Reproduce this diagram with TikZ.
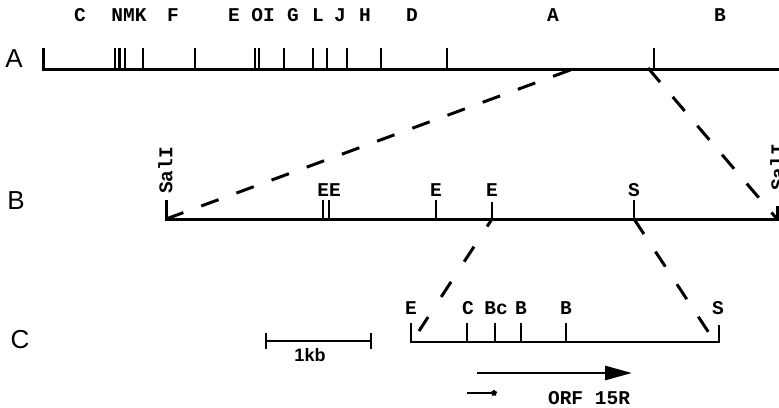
\documentclass[tikz,border=0pt]{standalone}
\usepackage{fontspec}
\setmainfont{Liberation Serif}
\newfontfamily\monofam{Liberation Mono}
\newfontfamily\sansfam{Liberation Sans}
\usetikzlibrary{arrows.meta,shapes.geometric}
\begin{document}
\begin{tikzpicture}[x=1pt,y=-1pt,
  mapline/.style={line width=3pt},
  sitetick/.style={line width=2.8pt},
  zoomline/.style={line width=3pt},
  site/.style={font=\monofam\bfseries\fontsize{19.5}{19.5}\selectfont, inner sep=0pt},
  rowlabel/.style={font=\sansfam\fontsize{26}{26}\selectfont, inner sep=0pt},
  scalelabel/.style={font=\sansfam\bfseries\fontsize{18}{18}\selectfont, inner sep=0pt}]
\useasboundingbox (0,0) rectangle (779,407);

% row labels
\node[rowlabel] (labA) at (14,59) {A};
\node[rowlabel] (labB) at (16,201) {B};
\node[rowlabel] (labC) at (20,340) {C};

% ---- map A
\coordinate (A0) at (43,69);
\coordinate (A1) at (782,69);
\draw[mapline] (43,48) |- (A1);
\foreach \x in {115,119.5,125,143,195,255,259,284,313,327,347,381,447,654}
  \draw[sitetick] (\x,48) -- (\x,69);
\foreach \x/\t/\n in {80/C/c1,129/NMK/c2,173/F/c3,234/E/c4,263/OI/c5,293/G/c6,318/L/c7,340/J/c8,365/H/c9,412/D/c10,553/A/c11,720/B/c12}
  \node[site] (la\n) at (\x,15) {\t};

% ---- map B
\coordinate (B0) at (166,219);
\coordinate (B1) at (777,219);
\draw[mapline] (166,200) |- (B1) -- (777,206);
\foreach \x in {323,329,436,634}
  \draw[sitetick] (\x,200) -- (\x,219);
\draw[sitetick] (492,202) -- (492,219);
\node[site] (lbEE) at (329,190) {EE};
\node[site] (lbE1) at (436,190) {E};
\node[site] (lbE2) at (492,190) {E};
\node[site] (lbS) at (634,190) {S};
\node[site, rotate=90, anchor=west] (sal1) at (165.5,194) {SalI};
\node[site, rotate=90, anchor=west] (sal2) at (777.5,191) {SalI};

% ---- map C
\coordinate (C0) at (411,342);
\coordinate (C1) at (719,342);
\draw[mapline, line width=2.7pt] (411,323) |- (C1) -- (719,325);
\foreach \x in {467,495,521,566}
  \draw[sitetick] (\x,323) -- (\x,342);
\node[site] (lcE) at (411,308) {E};
\node[site] (lcC) at (468,308) {C};
\node[site] (lcBc) at (496,308) {Bc};
\node[site] (lcB1) at (521,308) {B};
\node[site] (lcB2) at (566,308) {B};
\node[site] (lcS) at (718,308) {S};

% ---- dashed zoom lines
\coordinate (Aa) at (573,69);
\coordinate (Ab) at (648,68);
\coordinate (Be) at (492,219);
\coordinate (Bs) at (634,219);
\coordinate (Ce) at (419,331);
\coordinate (Cs) at (711,336);
\draw[zoomline, dash pattern=on 18.5pt off 19pt] (B0) -- (Aa);
\draw[zoomline, dash pattern=on 18.5pt off 19.5pt] (Ab) -- (B1);
\draw[zoomline, dash pattern=on 18pt off 24pt, dash phase=9pt] (Be) -- (Ce);
\draw[zoomline, dash pattern=on 18pt off 21pt] (Bs) -- (Cs);

% ---- scale bar
\coordinate (S0) at (266,341);
\coordinate (S1) at (371,341);
\draw[mapline, line width=2.7pt] (S0) -- (S1);
\draw[sitetick] (266,333) -- (266,349);
\draw[sitetick] (371,333) -- (371,349);
\node[scalelabel] (kb) at (310,355) {1kb};

% ---- ORF arrow
\coordinate (O0) at (477,373);
\coordinate (O1) at (632,373);
\draw[line width=2.8pt, -{Triangle[length=27pt,width=14pt]}] (O0) -- (O1);
\node[site] (orf) at (589,398) {ORF 15R};

% ---- small probe arrow
\coordinate (P0) at (467,393);
\node[star, star points=5, fill=black, inner sep=0pt, minimum size=7pt] (pstar) at (494,393) {};
\draw[line width=2.2pt] (P0) -- (pstar.center);
\end{tikzpicture}
\end{document}
